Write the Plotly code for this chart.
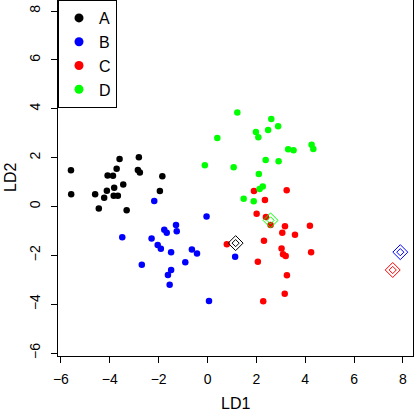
import plotly.graph_objects as go

groups = ['A', 'B', 'C', 'D']
group_colors = ['#000000', '#0000FF', '#FF0000', '#00FF00']

a_x = [-5.59, -5.58, -3.60, -2.81, -3.72, -4.09, -3.87, -2.85, -2.77, -3.45,
       -3.82, -4.12, -4.60, -4.23, -3.84, -3.67, -4.45, -3.31, -1.85, -1.95]
a_y = [1.48, 0.50, 1.94, 2.01, 1.54, 1.27, 1.26, 1.49, 1.39, 0.90,
       0.77, 0.64, 0.50, 0.36, 0.44, 0.44, -0.08, -0.15, 1.24, 0.63]

b_x = [-2.18, -0.04, -3.49, -2.29, -1.77, -1.67, -1.29, -1.26, -2.04, -1.91,
       -1.49, -0.64, -0.43, -0.91, -2.69, -1.49, -1.62, -1.55, 0.06, 1.13]
b_y = [0.22, -0.41, -1.26, -1.31, -0.95, -1.08, -0.76, -1.01, -1.58, -1.73,
       -1.87, -1.76, -1.92, -2.28, -2.39, -2.60, -2.80, -3.20, -3.87, -2.06]

c_x = [1.90, 3.24, 2.35, 2.01, 2.39, 2.58, 3.17, 4.19, 3.06, 3.58,
       0.79, 2.31, 3.03, 3.09, 3.20, 4.24, 2.06, 3.25, 3.16, 2.28]
c_y = [0.63, 0.66, 0.26, -0.30, -0.43, -0.76, -0.81, -0.79, -1.08, -1.16,
       -1.55, -1.40, -1.72, -1.96, -2.03, -1.87, -2.26, -2.82, -3.57, -3.88]

d_x = [1.22, 2.61, 2.89, 2.48, 1.98, 2.08, 0.40, 4.26, 4.33, 3.30,
       3.52, 2.38, 2.91, -0.11, 1.07, 2.10, 2.26, 2.13, 1.48, 1.89]
d_y = [3.85, 3.58, 3.28, 3.13, 3.05, 2.83, 2.80, 2.53, 2.35, 2.34,
       2.30, 1.90, 1.85, 1.69, 1.60, 1.33, 0.82, 0.71, 0.32, 0.21]

# group centroids (drawn as double diamonds)
cent_x = [1.15, 7.89, 7.58, 2.58]
cent_y = [-1.50, -1.87, -2.60, -0.57]

tick_vals = [-6, -4, -2, 0, 2, 4, 6, 8]

fig = go.Figure()

for name, col, xs, ys in zip(groups, group_colors, [a_x, b_x, c_x, d_x], [a_y, b_y, c_y, d_y]):
    fig.add_trace(go.Scatter(
        x=xs, y=ys, mode='markers', showlegend=False,
        marker=dict(color=col, size=6.5, line=dict(width=0))
    ))

for i, col in enumerate(group_colors):
    for s in [11.5, 5.5]:
        fig.add_trace(go.Scatter(
            x=[cent_x[i]], y=[cent_y[i]], mode='markers', showlegend=False,
            marker=dict(symbol='diamond-open', color=col, size=s, line=dict(width=1, color=col))
        ))

# legend-only traces with bigger dots
for name, col in zip(groups, group_colors):
    fig.add_trace(go.Scatter(
        x=[None], y=[None], mode='markers', name=name,
        marker=dict(color=col, size=9)
    ))

axis_common = dict(
    showgrid=False, zeroline=False, automargin=False,
    showline=True, mirror=True, linecolor='black', linewidth=1,
    ticks='outside', ticklen=6, tickcolor='black',
    tickvals=tick_vals,
    tickfont=dict(size=14, color='black'),
)

fig.update_layout(
    width=415, height=411,
    plot_bgcolor='white', paper_bgcolor='white',
    font=dict(family='Liberation Sans, Arial, sans-serif', color='black'),
    margin=dict(l=58, r=2, t=0, b=55),
    xaxis=dict(range=[-6.12, 8.41], ticklabelstandoff=4, **axis_common),
    yaxis=dict(range=[-6.12, 8.45], tickangle=-90, ticklabelstandoff=5, **axis_common),
    legend=dict(
        x=0, y=1, xanchor='left', yanchor='top',
        bordercolor='black', borderwidth=1, bgcolor='white',
        font=dict(size=16, color='black'),
        tracegroupgap=0,
    ),
    annotations=[
        dict(text='LD1', x=0.5, y=-48/356, xref='paper', yref='paper',
             xanchor='center', yanchor='middle', showarrow=False, font=dict(size=16)),
        dict(text='LD2', x=-48/355, y=0.5, xref='paper', yref='paper', textangle=-90,
             xanchor='center', yanchor='middle', showarrow=False, font=dict(size=16)),
    ],
)

fig.write_html("out.html", config={'displayModeBar': False},
               post_script="document.body.style.margin='0';document.body.style.overflow='hidden';")
